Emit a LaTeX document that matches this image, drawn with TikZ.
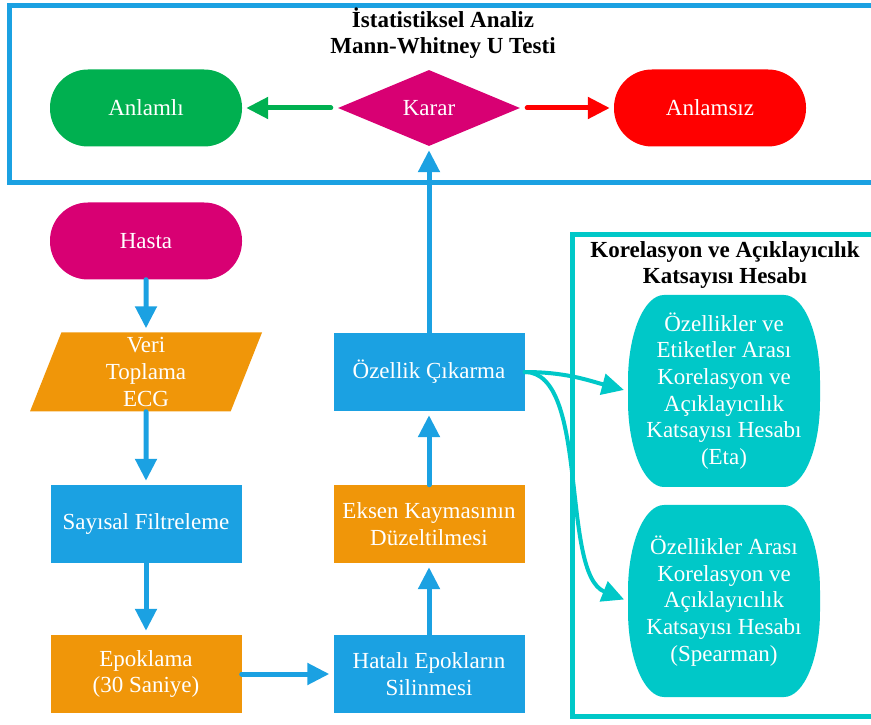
\documentclass[tikz,border=0pt]{standalone}
\usepackage{fontspec}
\setmainfont{Liberation Serif}
\usetikzlibrary{shapes.geometric,arrows.meta}
\definecolor{mavi}{RGB}{27,161,226}
\definecolor{turuncu}{RGB}{240,150,9}
\definecolor{pembe}{RGB}{216,0,115}
\definecolor{yesil}{RGB}{0,176,80}
\definecolor{kirmizi}{RGB}{255,0,0}
\definecolor{turkuaz}{RGB}{0,200,200}
\tikzset{
  yazi/.style={font=\fontsize{23}{26.7}\selectfont, align=center},
  baslik/.style={yazi, font=\fontsize{23}{26.5}\selectfont\bfseries},
  cerceve/.style={line width=5pt},
  uc/.style={yazi, rectangle, rounded corners=38pt, text=white, minimum width=192pt, minimum height=77pt, inner sep=0pt},
  islem/.style={yazi, rectangle, text=white, minimum width=191pt, minimum height=78pt, inner sep=0pt},
  karar/.style={yazi, diamond, fill=pembe, text=white, aspect=2.4, minimum width=182pt, minimum height=76pt, inner sep=0pt},
  veri/.style={yazi, trapezium, trapezium left angle=65.5, trapezium right angle=114.5, trapezium stretches body, fill=turuncu, text=white, minimum width=232pt, minimum height=79pt, inner sep=0pt},
  katsayi/.style={yazi, rectangle, text=white, minimum width=192pt, minimum height=192pt, inner sep=0pt},
  ok/.style={line width=5pt, line cap=round, -{Triangle[length=22pt,width=21pt]}, shorten >=4pt}
}
\begin{document}
\begin{tikzpicture}[x=1pt,y=1pt]
  \useasboundingbox (0,0) rectangle (871,724);
  % cerceveler
  \draw[cerceve, draw=mavi] (9,541) rectangle (880,718);
  \node[baslik] (analiz) at (443,691) {İstatistiksel Analiz\\Mann-Whitney U Testi};
  \draw[cerceve, draw=turkuaz] (572,8) rectangle (880,489);
  \node[baslik] (korelasyon) at (725,459) {Korelasyon ve Açıklayıcılık\\Katsayısı Hesabı};

  \node[uc, fill=yesil] (anlamli) at (146,616) {Anlamlı};
  \node[karar] (karar) at (429,616) {Karar};
  \node[uc, fill=kirmizi] (anlamsiz) at (710,616) {Anlamsız};

  \node[uc, fill=pembe] (hasta) at (146,483) {Hasta};
  \node[veri] (veri) at (146,352) {Veri\\Toplama\\ECG};
  \node[islem, fill=mavi] (filtre) at (146,200) {Sayısal Filtreleme};
  \node[islem, fill=turuncu] (epok) at (146,50) {Epoklama\\(30 Saniye)};
  \node[islem, fill=mavi] (hatali) at (429,50) {Hatalı Epokların\\Silinmesi};
  \node[islem, fill=turuncu] (eksen) at (429,200) {Eksen Kaymasının\\Düzeltilmesi};
  \node[islem, fill=mavi] (ozellik) at (429,352) {Özellik Çıkarma};

  % katsayi sekilleri
  \foreach \y in {333,123}
    \fill[turkuaz] (628,\y-10) -- (628,\y+10)
      arc[start angle=180, end angle=90, x radius=36, y radius=86] -- (784,\y+96)
      arc[start angle=90, end angle=0, x radius=36, y radius=86] -- (820,\y-10)
      arc[start angle=0, end angle=-90, x radius=36, y radius=86] -- (664,\y-96)
      arc[start angle=-90, end angle=-180, x radius=36, y radius=86] -- cycle;
  \node[katsayi] (eta) at (724,333) {Özellikler ve\\Etiketler Arası\\Korelasyon ve\\Açıklayıcılık\\Katsayısı Hesabı\\(Eta)};
  \node[katsayi] (spearman) at (724,123) {Özellikler Arası\\Korelasyon ve\\Açıklayıcılık\\Katsayısı Hesabı\\(Spearman)};

  \draw[ok, mavi] (hasta.south) -- (veri.north);
  \draw[ok, mavi] (veri.south) -- (filtre.north);
  \draw[ok, mavi] (filtre.south) -- (epok.north);
  \draw[ok, mavi] (epok.east) -- (hatali.west);
  \draw[ok, mavi] (hatali.north) -- (eksen.south);
  \draw[ok, mavi] (eksen.north) -- (ozellik.south);
  \draw[ok, mavi] (ozellik.north) -- (karar.south);
  \draw[ok, yesil, shorten <=7pt] (karar.west) -- (anlamli.east);
  \draw[ok, kirmizi, shorten <=7pt] (karar.east) -- (anlamsiz.west);
  \draw[ok, turkuaz, line width=4pt] (ozellik.east) to[out=0, in=165] (eta.west);
  \draw[ok, turkuaz, line width=4pt] (ozellik.east) .. controls (590,352) and (560,150) .. (spearman.west);
\end{tikzpicture}
\end{document}
